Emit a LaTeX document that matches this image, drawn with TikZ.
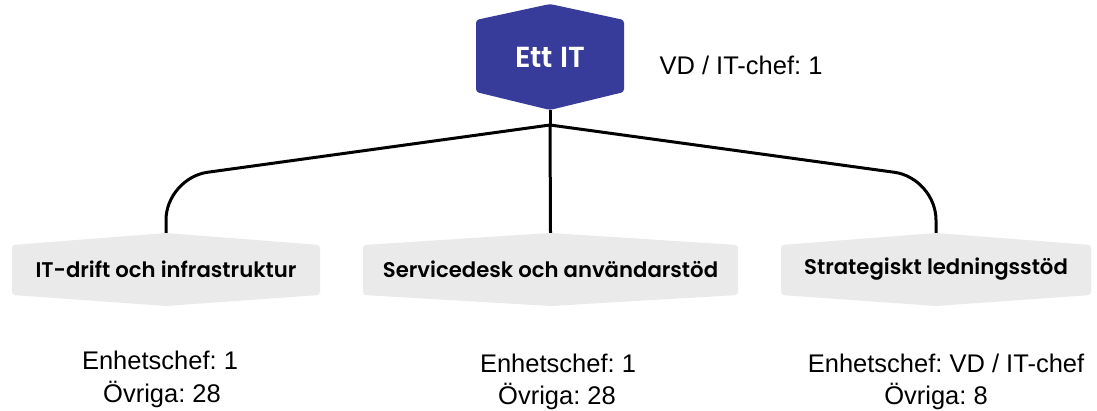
\documentclass[tikz,border=0pt]{standalone}
\usepackage{fontspec}
\setmainfont{Liberation Sans}
\newfontfamily\popfont{Poppins}[BoldFont={Poppins SemiBold}]
\usetikzlibrary{calc}
\frenchspacing
\definecolor{hexblue}{HTML}{373B9A}
\definecolor{hexgray}{HTML}{EAEAEA}
\tikzset{
  hexfill/.style n args={3}{
    path picture={
      \fill[#1, rounded corners=3pt]
        ($(path picture bounding box.north west)+(0pt,-#2)$) --
        (path picture bounding box.north) --
        ($(path picture bounding box.north east)+(0pt,-#2)$) --
        ($(path picture bounding box.south east)+(0pt,#3)$) --
        (path picture bounding box.south) --
        ($(path picture bounding box.south west)+(0pt,#3)$) -- cycle;
    }
  },
  topbox/.style={hexfill={hexblue}{16pt}{18pt}, minimum width=148pt, minimum height=106pt,
    inner sep=0pt, text=white, font=\popfont\bfseries\fontsize{29}{32}\selectfont},
  unitbox/.style={hexfill={hexgray}{12pt}{11pt}, minimum height=73pt,
    inner sep=0pt, text=black, font=\popfont\bfseries\fontsize{21.2}{24}\selectfont},
  infotext/.style={anchor=base, inner sep=0pt, font=\fontsize{25.5}{28}\selectfont},
  conn/.style={line width=3pt, black},
}
\begin{document}
\begin{tikzpicture}[x=1pt, y=-1pt]
\useasboundingbox (0,0) rectangle (1097,411);

\node[topbox] (top) at (550,57) {Ett IT};
\node[unitbox, minimum width=308pt] (u1) at (166,269.5) {IT-drift och infrastruktur};
\node[unitbox, minimum width=375pt] (u2) at (550.5,269.5) {Servicedesk och användarstöd};
\node[unitbox, minimum width=310pt] (u3) at (936,269.5) {Strategiskt ledningsstöd};

\coordinate (fork) at (550,125);
\draw[conn] (top.south) -- (fork);
\draw[conn, rounded corners=42pt] (fork) -- (u1.north |- 0,178) -- (u1.north);
\draw[conn] (fork) -- (u2.north);
\draw[conn, rounded corners=42pt] (fork) -- (u3.north |- 0,178) -- (u3.north);

\node[infotext] (ceo) at (741,75) {VD / IT-chef: 1};

\node[infotext] (e1) at (160,370) {Enhetschef: 1};
\node[infotext] (o1) at (162,402) {Övriga: 28};
\node[infotext] (e2) at (558,372) {Enhetschef: 1};
\node[infotext] (o2) at (557,404) {Övriga: 28};
\node[infotext] (e3) at (946,372) {Enhetschef: VD / IT-chef};
\node[infotext] (o3) at (936,404) {Övriga: 8};
\end{tikzpicture}
\end{document}
